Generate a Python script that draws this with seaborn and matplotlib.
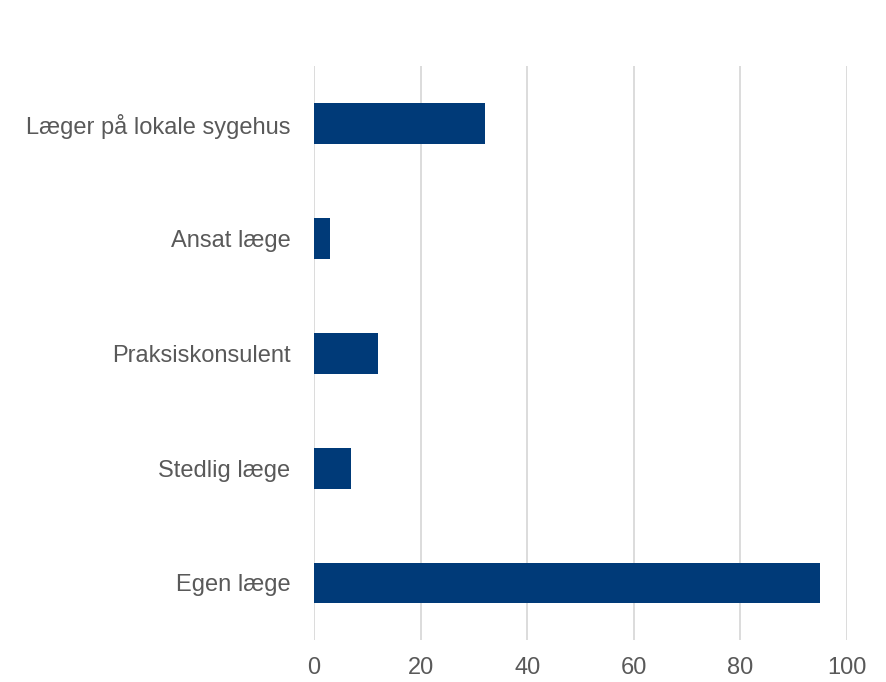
import matplotlib
matplotlib.use("Agg")
import matplotlib.pyplot as plt
import pandas as pd
import seaborn as sns

categories = ["Læger på lokale sygehus", "Ansat læge", "Praksiskonsulent", "Stedlig læge", "Egen læge"]
values = [32, 3, 12, 7, 95]
xticks = [0, 20, 40, 60, 80, 100]

df = pd.DataFrame({"kategori": categories, "antal": values})

sns.set_style("white")
plt.rcParams["font.family"] = ["Liberation Sans", "DejaVu Sans"]

fig = plt.figure(figsize=(8.87, 6.82), dpi=100)
ax = fig.add_axes([0.354, 0.061, 0.601, 0.842])

sns.barplot(data=df, y="kategori", x="antal", orient="h", color="#003A78",
            width=0.356, saturation=1, edgecolor="none", ax=ax)

ax.set_xlim(0, 100)
ax.set_ylim(4.5, -0.5)
ax.set_xticks(xticks)
ax.xaxis.grid(True, color="#D9D9D9", linewidth=1.3)
ax.set_axisbelow(True)
for s in ax.spines.values():
    s.set_visible(False)
ax.set_xlabel("")
ax.set_ylabel("")
ax.tick_params(axis="x", length=0, pad=12, labelsize=17, labelcolor="#595959")
ax.tick_params(axis="y", length=0, pad=17, labelsize=17, labelcolor="#595959")

fig.savefig("out.png", dpi=100)
